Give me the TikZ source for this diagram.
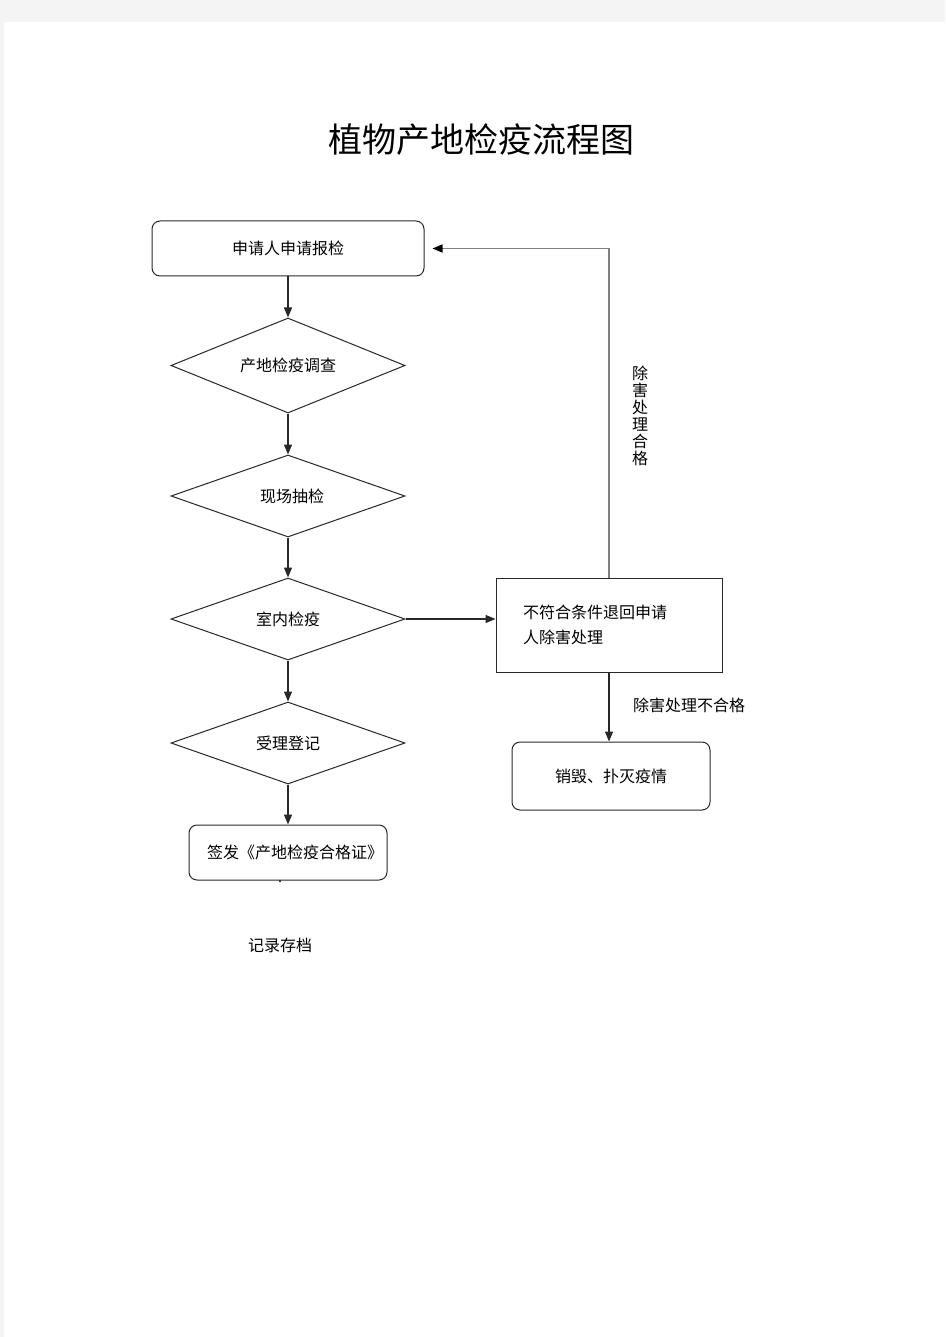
\documentclass[tikz,border=0pt]{standalone}
\usepackage{fontspec}
\setmainfont{Noto Sans CJK SC}
\usepackage{tikz}
\usetikzlibrary{
  arrows.meta,
  shapes.geometric,
  chains,
  positioning,
  scopes
}
\definecolor{pagegray}{RGB}{244,244,244}
\definecolor{linegray}{RGB}{40,40,40}

\begin{document}
\begin{tikzpicture}[
      x=1pt,y=-1pt,
      process/.style={
         rectangle,
         rounded corners=8pt,
         inner sep=0pt,
         line width=1pt,
         draw=linegray,
         font=\fontsize{16pt}{18pt}\selectfont,
      },
      decision/.style={
         diamond,
         aspect=2.5,
         minimum width=234pt,
         minimum height=82pt,
         inner sep=0pt,
         line width=1pt,
         draw=linegray,
         font=\fontsize{16pt}{18pt}\selectfont,
      },
      plain/.style={
         inner sep=0pt,
         font=\fontsize{16pt}{18pt}\selectfont,
      },
      >={Triangle[length=10pt,width=8pt]},
      tip/.style={->,line width=1.4pt,draw=linegray},
    ]
    % page
    \fill[pagegray] (0,0) rectangle (945,1337);
    \fill[white] (4,22) rectangle (945,1337);
    \useasboundingbox (0,0) rectangle (945,1337);
    % title
    \node (title) at (481,140) [font=\fontsize{34pt}{36pt}\selectfont] {植物产地检疫流程图};
    % left column
    \node (n11) at (288,248.5) [process, minimum width=272pt, minimum height=55pt] {申请人申请报检};
    \node (n21) at (288,365.5) [decision, minimum height=95pt] {产地检疫调查};
    \node (n31) at (288,496) [decision] {\hspace*{8pt}现场抽检};
    \node (n41) at (288,619) [decision] {室内检疫};
    \node (n51) at (288,743) [decision] {受理登记};
    \node (n61) at (288,852.5) [process, minimum width=198pt, minimum height=55pt] {\hspace*{14pt}签发《产地检疫合格证》};
    \node (n62) at (280,881) [circle, fill=linegray, inner sep=0pt, minimum size=2.5pt] {};
    \node (n71) at (280,945) [plain] {记录存档};
    % right column
    \node (n42) at (609,625) [rectangle, draw=linegray, line width=1pt, minimum width=226pt, minimum height=94pt,
       inner xsep=27pt, inner ysep=0pt, text width=172pt, align=left,
       font=\fontsize{16pt}{25pt}\selectfont] {不符合条件退回申请\\人除害处理\\[16pt]};
    \node (n52) at (611,776) [process, minimum width=198pt, minimum height=68pt] {销毁、扑灭疫情};
    \node (l1) at (689,705) [plain] {除害处理不合格};
    \node (l2) at (640,416) [plain, align=center, font=\fontsize{16pt}{17pt}\selectfont] {除\\害\\处\\理\\合\\格};
  { [start chain]
       \chainin (n11);
       \chainin (n21)    [join=by tip];
  }
  { [start chain]
       \chainin (n21);
       \chainin (n31)    [join=by tip];
  }
  { [start chain]
       \chainin (n31);
       \chainin (n41)    [join=by tip];
  }
  { [start chain]
       \chainin (n41);
       \chainin (n51)    [join=by tip];
  }
  { [start chain]
       \chainin (n51);
       \chainin (n61)    [join=by tip];
  }
    \draw[tip] (n41.east) -- (n41.east -| n42.west);
    \draw[tip] (n42.south) -- (n42.south |- n52.north);
    \draw[tip, draw=gray, -{Triangle[length=10pt,width=8pt,color=black]}] (n42.north) |- ([xshift=8pt]n11.east);
\end{tikzpicture}
\end{document}
